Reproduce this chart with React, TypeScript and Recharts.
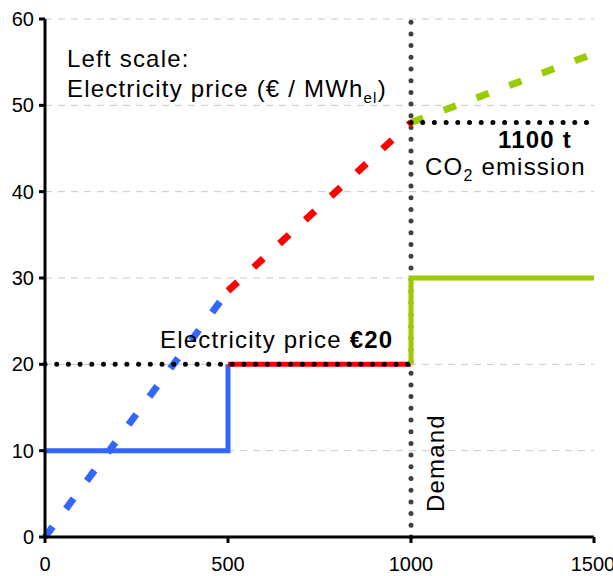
import {
  ComposedChart,
  Line,
  XAxis,
  YAxis,
  CartesianGrid,
  ReferenceLine,
} from "recharts";

// supply steps (electricity price, left scale)
const blueStep = [
  { x: 0, y: 10 },
  { x: 500, y: 10 },
  { x: 500, y: 20 },
];
const redStep = [
  { x: 500, y: 20 },
  { x: 1000, y: 20 },
];
const greenStep = [
  { x: 1000, y: 20 },
  { x: 1000, y: 30 },
  { x: 1500, y: 30 },
];

// cumulative CO2 emission curve (dashed)
const blueEmission = [
  { x: 0, y: 0 },
  { x: 500, y: 28.5 },
];
const redEmission = [
  { x: 500, y: 28.5 },
  { x: 1000, y: 48 },
];
const greenEmission = [
  { x: 1000, y: 48 },
  { x: 1500, y: 56 },
];

const xTicks = [0, 500, 1000, 1500];
const yTicks = [0, 10, 20, 30, 40, 50, 60];

const demand = 1000;
const price = 20;
const emissionAtDemand = 48;

const BLUE = "#3366ff";
const RED = "#ff0000";
const GREEN = "#99cc00";
const FONT = "'Liberation Sans', Arial, sans-serif";

const tickStyle = { fill: "#000", fontSize: 20, fontFamily: FONT };
const textStyle = { fontFamily: FONT, fontSize: 24, letterSpacing: 1.2 };
const DASH = "13 22";

export default function App() {
  return (
    <div style={{ position: "absolute", left: 0, top: 0, width: 613, height: 576, background: "#fff" }}>
      <ComposedChart
        width={613}
        height={576}
        margin={{ top: 19, right: 19, left: 0, bottom: 9 }}
      >
        <CartesianGrid vertical={false} stroke="#c8c8c8" strokeDasharray="7 6" />
        <XAxis
          type="number"
          dataKey="x"
          domain={[0, 1500]}
          ticks={xTicks}
          height={30}
          tick={tickStyle}
          axisLine={{ stroke: "#000", strokeWidth: 3 }}
          tickLine={{ stroke: "#000", strokeWidth: 3 }}
          tickSize={6}
          tickMargin={14}
          allowDuplicatedCategory={false}
        />
        <YAxis
          type="number"
          domain={[0, 60]}
          ticks={yTicks}
          width={45}
          tick={tickStyle}
          axisLine={{ stroke: "#000", strokeWidth: 3 }}
          tickLine={{ stroke: "#000", strokeWidth: 3 }}
          tickSize={6}
          tickMargin={5}
        />
        <ReferenceLine
          x={demand}
          stroke="#404040"
          strokeWidth={5}
          strokeDasharray="0 11.7"
          strokeLinecap="round"
        />
        <Line data={blueStep} dataKey="y" stroke={BLUE} strokeWidth={5} dot={false} isAnimationActive={false} />
        <Line data={redStep} dataKey="y" stroke={RED} strokeWidth={5} dot={false} isAnimationActive={false} />
        <Line data={greenStep} dataKey="y" stroke={GREEN} strokeWidth={5} dot={false} isAnimationActive={false} />
        <Line data={blueEmission} dataKey="y" stroke={BLUE} strokeWidth={7} strokeDasharray={DASH} dot={false} isAnimationActive={false} />
        <Line data={redEmission} dataKey="y" stroke={RED} strokeWidth={7} strokeDasharray={DASH} dot={false} isAnimationActive={false} />
        <Line data={greenEmission} dataKey="y" stroke={GREEN} strokeWidth={7} strokeDasharray={DASH} dot={false} isAnimationActive={false} />
        <ReferenceLine
          segment={[{ x: 0, y: price }, { x: demand, y: price }]}
          stroke="#000"
          strokeWidth={5}
          strokeDasharray="0 11.7"
          strokeLinecap="round"
        />
        <ReferenceLine
          segment={[{ x: demand, y: emissionAtDemand }, { x: 1500, y: emissionAtDemand }]}
          stroke="#000"
          strokeWidth={5}
          strokeDasharray="0 11.7"
          strokeLinecap="round"
        />
      </ComposedChart>
      <svg
        width={613}
        height={576}
        style={{ position: "absolute", left: 0, top: 0, pointerEvents: "none" }}
      >
        <text x={67} y={67} style={textStyle}>Left scale:</text>
        <text x={67} y={97} style={textStyle}>
          Electricity price (€ / MWh
          <tspan fontSize={15} dy={6}>el</tspan>
          <tspan dy={-6}>)</tspan>
        </text>
        <text x={160} y={348} style={textStyle}>
          Electricity price <tspan fontWeight="bold">€20</tspan>
        </text>
        <text x={498} y={148} style={textStyle} fontWeight="bold">1100 t</text>
        <text x={425} y={175} style={textStyle}>
          CO<tspan fontSize={16} dy={6}>2</tspan>
          <tspan dy={-6}> emission</tspan>
        </text>
        <text x={444} y={512} style={textStyle} transform="rotate(-90 444 512)">Demand</text>
      </svg>
    </div>
  );
}
